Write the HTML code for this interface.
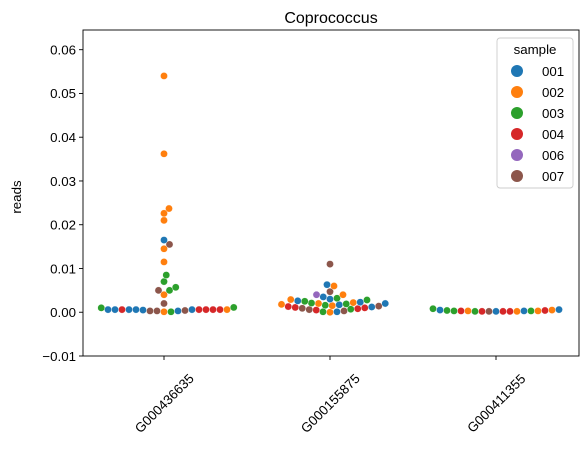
<!DOCTYPE html>
<html><head><meta charset="utf-8"><style>body{margin:0;background:#fff}svg{font-family:"Liberation Sans","DejaVu Sans",sans-serif}</style></head>
<body>
<svg id="chart" width="587" height="450"></svg>
<script>
const categories=["G000436635","G000155875","G000411355"];
const sampleNames=["001","002","003","004","006","007"];
const colors=["#1f77b4","#ff7f0e","#2ca02c","#d62728","#9467bd","#8c564b"];
const yTicks=[-0.01,0,0.01,0.02,0.03,0.04,0.05,0.06];
const yTickLabels=["\u22120.01","0.00","0.01","0.02","0.03","0.04","0.05","0.06"];
// group 0
const g0Values=[0.054,0.0362,0.0237,0.0226,0.021,0.0165,0.0155,0.0145,0.0115,0.0085,0.007,0.0057,0.005,0.005,0.004,0.002,
0.001,0.0006,0.0006,0.0006,0.0006,0.0006,0.0004,0.0003,0.0003,0.0001,0.0001,0.0003,0.0005,0.0006,0.0006,0.0006,0.0006,0.0006,0.0011,0.0006];
const g0Samples=[1,1,1,1,1,0,5,1,1,2,2,2,2,5,1,5,
2,0,0,3,0,3,5,5,0,1,2,5,0,3,3,0,3,0,2,1];
// group 1
const g1Values=[0.011,0.0063,0.006,0.0047,0.004,0.004,0.0035,0.0032,0.003,0.0029,0.0028,0.0026,0.0025,0.0023,0.0022,0.0021,0.002,0.002,0.0019,0.0018,0.0017,0.0016,0.0015,0.0014,0.0013,0.0012,0.0011,0.001,0.0009,0.0008,0.0007,0.0006,0.0005,0.0003,0.0001,0.0001,0.0];
const g1Samples=[5,0,1,5,1,4,0,2,0,1,2,0,2,0,1,2,1,0,2,1,0,2,1,5,3,0,3,3,5,3,2,5,3,5,0,2,1];
// group 2
const g2Values=[0.0008,0.0006,0.0005,0.0004,0.0004,0.0003,0.0003,0.0003,0.0002,0.0002,0.0002,0.0002,0.0002,0.0002,0.0002,0.0003,0.0003,0.0003,0.0005];
const g2Samples=[2,0,1,3,2,0,1,2,0,3,5,3,3,1,2,3,1,2,0];
const groupValues=[g0Values,g1Values,g2Values];
const groupSamples=[g0Samples,g1Samples,g2Samples];

const NS="http://www.w3.org/2000/svg";
const svg=document.getElementById('chart');
const L=83,R=579,T=30,B=356,yMin=-0.01,yMax=0.0645;
const yS=v=>B-(v-yMin)/(yMax-yMin)*(B-T);
const xS=i=>164+i*166;
function mk(tag,attrs,parent){const e=document.createElementNS(NS,tag);for(const k in attrs)e.setAttribute(k,attrs[k]);(parent||svg).appendChild(e);return e;}
const r=3.6;
groupValues.forEach((vals,gi)=>{
  const g=mk('g',{});
  
  
  const placed=[];
  const order=vals.map((v,i)=>i).sort((a,b)=>vals[a]-vals[b]);
  order.forEach(i=>{
    const y=yS(vals[i]);let best=0;
    for(let k=0;k<2000;k++){
      const off=(k%2?1:-1)*Math.ceil(k/2)*0.25;
      if(placed.every(p=>Math.hypot(p[0]-off,p[1]-y)>=2*r-0.3)){best=off;break;}
    }
    placed.push([best,y]);
    const c=mk('circle',{cx:xS(gi)+best,cy:y,r:r,fill:colors[groupSamples[gi][i]],stroke:'#fff','stroke-width':0.4},g);
    
    
  });
});
// axes
const frame=mk('rect',{x:L,y:T,width:R-L,height:B-T,fill:'none',stroke:'#000','stroke-width':0.9});


yTicks.forEach((t,i)=>{
  const y=yS(t);
  mk('line',{x1:L-4,x2:L,y1:y,y2:y,stroke:'#000','stroke-width':0.9});
  const tx=mk('text',{x:L-7,y:y+4.8,'text-anchor':'end','font-size':13.3});
  tx.textContent=yTickLabels[i];
  
  
});
categories.forEach((c,i)=>{
  const x=xS(i);
  mk('line',{x1:x,x2:x,y1:B,y2:B+4,stroke:'#000','stroke-width':0.9});
  const tx=mk('text',{x:x,y:408,'text-anchor':'middle','font-size':13.3,transform:`rotate(-45 ${x} 403)`});
  tx.textContent=c;
  
  
});
const yl=mk('text',{x:21,y:197,'text-anchor':'middle','font-size':13.3,transform:'rotate(-90 21 197)'});yl.textContent='reads';


const ti=mk('text',{x:331,y:23,'text-anchor':'middle','font-size':16});ti.textContent='Coprococcus';


// legend
const lg=mk('g',{});


mk('rect',{x:497,y:38,width:76,height:150,rx:3,fill:'#fff','fill-opacity':0.8,stroke:'#ccc','stroke-width':0.9},lg);
const lt=mk('text',{x:535,y:54,'text-anchor':'middle','font-size':13.3},lg);lt.textContent='sample';
sampleNames.forEach((s,i)=>{
  const y=71+i*21;
  const e=mk('g',{},lg);
  
  
  mk('circle',{cx:517,cy:y,r:6,fill:colors[i]},e);
  const t=mk('text',{x:542,y:y+4.8,'font-size':13.3},e);t.textContent=s;
});
</script>
</body></html>
